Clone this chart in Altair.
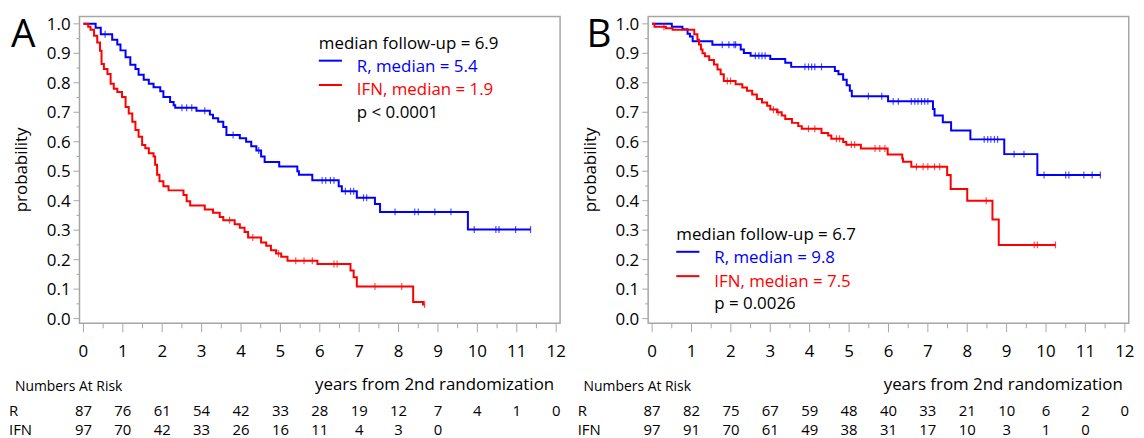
import altair as alt
import pandas as pd

# ---------------- data ----------------
YEARS = list(range(13))
X_MINOR = [i + 0.5 for i in range(12)]
Y_MAJOR = [round(i * 0.1, 1) for i in range(11)]
Y_MINOR = [round(i * 0.1 + 0.05, 2) for i in range(10)]

# Panel A (step points: time, survival)
A_R_T = [0, 0.31, 0.44, 0.73, 0.86, 0.94, 1.07, 1.19, 1.32, 1.40, 1.53, 1.66, 1.78, 1.95, 2.03, 2.20, 2.29, 2.33,
         2.87, 3.21, 3.29, 3.42, 3.55, 3.63, 3.97, 4.13, 4.26, 4.39, 4.51, 4.60, 4.97, 5.43, 5.47, 5.81, 6.48,
         6.56, 6.94, 7.40, 7.53, 9.76, 11.35]
A_R_S = [1.0, 0.987, 0.965, 0.946, 0.93, 0.91, 0.887, 0.861, 0.847, 0.827, 0.81, 0.797, 0.785, 0.771, 0.752, 0.735,
         0.724, 0.715, 0.705, 0.692, 0.68, 0.668, 0.65, 0.623, 0.612, 0.60, 0.585, 0.57, 0.55, 0.531, 0.516, 0.50,
         0.488, 0.469, 0.449, 0.432, 0.41, 0.389, 0.362, 0.302, 0.302]
A_I_T = [0, 0.12, 0.18, 0.27, 0.35, 0.42, 0.46, 0.52, 0.61, 0.69, 0.77, 0.86, 0.98, 1.07, 1.15, 1.24, 1.32, 1.40,
         1.49, 1.57, 1.66, 1.78, 1.82, 1.87, 1.93, 2.03, 2.16, 2.54, 2.62, 2.71, 3.08, 3.29, 3.46, 3.55, 3.84,
         3.97, 4.09, 4.18, 4.51, 4.64, 4.76, 4.89, 5.02, 5.18, 5.94, 6.78, 6.86, 6.94, 8.37, 8.62, 8.66]
A_I_S = [1.0, 0.99, 0.98, 0.96, 0.937, 0.909, 0.864, 0.847, 0.83, 0.797, 0.78, 0.769, 0.752, 0.718, 0.696, 0.668,
         0.64, 0.617, 0.589, 0.578, 0.561, 0.55, 0.522, 0.488, 0.466, 0.449, 0.435, 0.419, 0.398, 0.384, 0.37,
         0.359, 0.345, 0.334, 0.32, 0.308, 0.294, 0.275, 0.258, 0.247, 0.232, 0.221, 0.21, 0.196, 0.185, 0.163,
         0.14, 0.109, 0.056, 0.048, 0.048]
A_R_CENS = [0.55, 2.50, 2.62, 2.75, 3.08, 3.80, 4.45, 6.06, 6.15, 6.27, 6.36, 6.65, 6.78, 6.86, 7.11, 7.19, 7.91,
            8.41, 8.50, 8.92, 9.33, 9.92, 10.47, 10.55, 10.97, 11.35]
A_I_CENS = [3.71, 4.30, 4.95, 5.39, 5.60, 5.81, 6.36, 6.44, 7.40, 8.08, 8.66]
A_RISK_R = [87, 76, 61, 54, 42, 33, 28, 19, 12, 7, 4, 1, 0]
A_RISK_I = [97, 70, 42, 33, 26, 16, 11, 4, 3, 0]
A_LEGEND = ["median follow-up = 6.9", "R, median = 5.4", "IFN, median = 1.9", "p < 0.0001"]

# Panel B
B_R_T = [0, 0.50, 0.77, 0.90, 0.96, 1.03, 1.53, 2.25, 2.33, 2.50, 3.00, 3.38, 3.53, 4.64, 4.73, 4.85, 4.94, 5.02,
         5.07, 5.99, 7.13, 7.17, 7.38, 7.59, 8.08, 8.94, 9.78, 11.38]
B_R_S = [1.0, 0.99, 0.982, 0.966, 0.957, 0.941, 0.929, 0.913, 0.901, 0.892, 0.881, 0.868, 0.854, 0.84, 0.829, 0.81,
         0.792, 0.773, 0.754, 0.737, 0.711, 0.689, 0.666, 0.638, 0.608, 0.558, 0.487, 0.487]
B_I_T = [0, 0.06, 0.35, 0.52, 1.07, 1.15, 1.19, 1.24, 1.28, 1.34, 1.45, 1.57, 1.66, 1.74, 1.82, 2.12, 2.29, 2.41,
         2.54, 2.66, 2.79, 2.92, 3.00, 3.17, 3.29, 3.38, 3.55, 3.71, 3.80, 4.30, 4.47, 4.55, 4.85, 4.93, 5.30,
         5.98, 6.35, 6.37, 6.58, 7.49, 7.58, 8.00, 8.64, 8.80, 10.24]
B_I_S = [1.0, 0.99, 0.985, 0.98, 0.965, 0.946, 0.93, 0.913, 0.90, 0.89, 0.877, 0.862, 0.845, 0.829, 0.806, 0.795,
         0.784, 0.773, 0.76, 0.745, 0.733, 0.722, 0.709, 0.70, 0.689, 0.677, 0.664, 0.653, 0.644, 0.63, 0.621,
         0.61, 0.599, 0.59, 0.577, 0.557, 0.543, 0.532, 0.515, 0.487, 0.44, 0.40, 0.336, 0.25, 0.25]
B_R_CENS = [1.78, 1.95, 2.08, 2.12, 2.62, 2.71, 2.79, 2.87, 3.88, 3.97, 4.05, 4.13, 4.30, 5.49, 5.83, 6.12, 6.25,
            6.58, 6.67, 6.75, 6.84, 6.92, 7.00, 8.43, 8.52, 8.60, 8.69, 8.77, 9.19, 9.44, 9.95, 10.50, 10.58,
            10.96, 11.17, 11.38]
B_I_CENS = [0.30, 1.91, 1.99, 3.08, 3.20, 3.97, 4.13, 4.68, 4.76, 5.06, 5.14, 5.66, 5.78, 5.91, 6.71, 6.88, 7.00,
            7.17, 7.30, 8.48, 9.70, 9.78, 10.24]
B_RISK_R = [87, 82, 75, 67, 59, 48, 40, 33, 21, 10, 6, 2, 0]
B_RISK_I = [97, 91, 70, 61, 49, 38, 31, 17, 10, 3, 1, 0]
B_LEGEND = ["median follow-up = 6.7", "R, median = 9.8", "IFN, median = 7.5", "p = 0.0026"]

GROUPS = ["R", "IFN"]
X_TITLE = "years from 2nd randomization"
Y_TITLE = "probability"

# ---------------- style ----------------
BLUE = "#0000ff"
RED = "#ff0000"
GREY = "#a6a6a6"
FONT = "Open Sans"
W, H = 484, 309
XDOM = [-0.1, 12.1]
YDOM = [-0.016, 1.025]
ROW_Y = {"R": 402, "IFN": 421.5}


def step_at(ts, ss, t):
    v = ss[0]
    for ti, si in zip(ts, ss):
        if ti <= t:
            v = si
        else:
            break
    return v


def text_mark(txt, x, y, color="black", size=17, align="left", angle=0, baseline="alphabetic"):
    return alt.Chart(pd.DataFrame({"label": [txt]})).mark_text(
        align=align, baseline=baseline, font=FONT, fontSize=size, color=color, angle=angle
    ).encode(x=alt.value(x), y=alt.value(y), text="label:N")


def seg_mark(x1, x2, y, color):
    return alt.Chart(pd.DataFrame({"k": [0]})).mark_rule(strokeWidth=2, color=color).encode(
        x=alt.value(x1), x2=alt.value(x2), y=alt.value(y))


def panel(letter, letter_x, r_t, r_s, i_t, i_s, r_c, i_c, risk_r, risk_i, legend, lx, ly):
    curves = pd.DataFrame(
        {"t": r_t + i_t, "S": r_s + i_s, "group": ["R"] * len(r_t) + ["IFN"] * len(i_t)})
    cens = pd.DataFrame({
        "t": r_c + i_c,
        "S": [step_at(r_t, r_s, t) for t in r_c] + [step_at(i_t, i_s, t) for t in i_c],
        "group": ["R"] * len(r_c) + ["IFN"] * len(i_c)})

    xs = alt.Scale(domain=XDOM, nice=False, zero=False)
    ys = alt.Scale(domain=YDOM, nice=False, zero=False)
    cs = alt.Scale(domain=GROUPS, range=[BLUE, RED])

    lines = alt.Chart(curves).mark_line(interpolate="step-after", strokeWidth=2).encode(
        x=alt.X("t:Q", scale=xs, axis=None),
        y=alt.Y("S:Q", scale=ys, axis=None),
        color=alt.Color("group:N", scale=cs, legend=None),
        detail="group:N")
    ticks = alt.Chart(cens).mark_tick(orient="vertical", size=7, thickness=1.2).encode(
        x=alt.X("t:Q", scale=xs, axis=None),
        y=alt.Y("S:Q", scale=ys, axis=None),
        color=alt.Color("group:N", scale=cs, legend=None))

    # axes: ticks and labels drawn through the same scales
    xmaj_df = pd.DataFrame({"v": YEARS})
    xmaj = alt.Chart(xmaj_df).mark_rule(color=GREY, strokeWidth=1).encode(
        x=alt.X("v:Q", scale=xs, axis=None), y=alt.value(H), y2=alt.value(H + 9))
    xmin = alt.Chart(pd.DataFrame({"v": X_MINOR})).mark_rule(color=GREY, strokeWidth=1).encode(
        x=alt.X("v:Q", scale=xs, axis=None), y=alt.value(H), y2=alt.value(H + 5))
    xlab = alt.Chart(xmaj_df).mark_text(
        align="center", baseline="alphabetic", font=FONT, fontSize=17, color="black").encode(
        x=alt.X("v:Q", scale=xs, axis=None), y=alt.value(H + 33.5), text=alt.Text("v:Q", format="d"))
    ymaj_df = pd.DataFrame({"v": Y_MAJOR})
    ymaj = alt.Chart(ymaj_df).mark_rule(color=GREY, strokeWidth=1).encode(
        y=alt.Y("v:Q", scale=ys, axis=None), x=alt.value(0), x2=alt.value(-6))
    ymin = alt.Chart(pd.DataFrame({"v": Y_MINOR})).mark_rule(color=GREY, strokeWidth=1).encode(
        y=alt.Y("v:Q", scale=ys, axis=None), x=alt.value(0), x2=alt.value(-3))
    ylab = alt.Chart(ymaj_df).mark_text(
        align="right", baseline="alphabetic", dy=6, font=FONT, fontSize=17, color="black").encode(
        y=alt.Y("v:Q", scale=ys, axis=None), x=alt.value(-9), text=alt.Text("v:Q", format=".1f"))
    xtitle = text_mark(X_TITLE, 478, H + 67.5, align="right")
    ytitle = text_mark(Y_TITLE, -58, H / 2, align="center", angle=270, baseline="middle")

    notes = [
        text_mark(letter, letter_x, 30.5, size=39),
        text_mark(legend[0], lx, ly),
        seg_mark(lx, lx + 23.3, ly + 12, BLUE),
        text_mark(legend[1], lx + 38.3, ly + 23.3, color=BLUE),
        seg_mark(lx, lx + 23.3, ly + 36.5, RED),
        text_mark(legend[2], lx + 38.3, ly + 47, color=RED),
        text_mark(legend[3], lx + 38.3, ly + 69.5),
    ]

    table = []
    for g, vals in (("R", risk_r), ("IFN", risk_i)):
        df = pd.DataFrame({"year": YEARS[:len(vals)], "n": vals})
        table.append(alt.Chart(df).mark_text(
            align="center", baseline="alphabetic", font=FONT, fontSize=15, color="black").encode(
            x=alt.X("year:Q", scale=xs, axis=None),
            y=alt.value(ROW_Y[g]),
            text="n:Q"))
        table.append(text_mark(g, -71, ROW_Y[g], size=15))
    table.append(text_mark("Numbers At Risk", -65, 377.5, size=14))

    return alt.layer(lines, ticks, xmaj, xmin, xlab, ymaj, ymin, ylab, xtitle, ytitle,
                     *notes, *table).properties(width=W, height=H)


pA = panel("A", -69, A_R_T, A_R_S, A_I_T, A_I_S, A_R_CENS, A_I_CENS, A_RISK_R, A_RISK_I, A_LEGEND, 241, 32.5)
pB = panel("B", -62, B_R_T, B_R_S, B_I_T, B_I_S, B_R_CENS, B_I_CENS, B_RISK_R, B_RISK_I, B_LEGEND, 28.3, 225)

chart = alt.hconcat(pA, pB, spacing=88.7, bounds="flush").properties(
    padding={"left": 0, "top": 5, "right": 0, "bottom": 0}
).configure_view(stroke=GREY, strokeWidth=1.5)

chart.save("out.html", embed_options={"renderer": "svg", "actions": False})
